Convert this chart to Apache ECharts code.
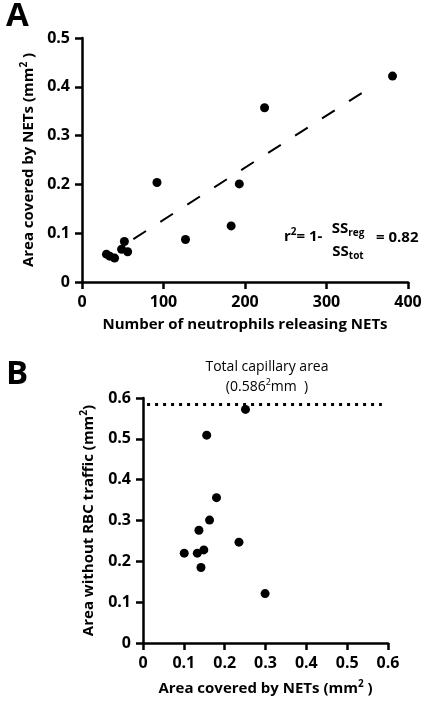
<!DOCTYPE html>
<html><head><meta charset="utf-8">
<script src="https://cdn.jsdelivr.net/npm/echarts@6/dist/echarts.min.js"></script>
<style>html,body{margin:0;padding:0;background:#fff}#c{width:433px;height:703px}</style>
</head><body><div id="c"></div>
<script>
// Panel A: neutrophils releasing NETs vs area covered by NETs
const neutrophilsA = [30, 34, 40, 48.6, 52, 56, 92, 127, 183, 193, 224, 381];
const netAreaA = [0.057, 0.053, 0.049, 0.067, 0.083, 0.062, 0.204, 0.087, 0.115, 0.201, 0.357, 0.422];
// regression line endpoints (as drawn)
const fitX = [63, 358];
const fitY = [0.088, 0.403];
// Panel B: area covered by NETs vs area without RBC traffic
const netAreaB = [0.101, 0.133, 0.149, 0.142, 0.299, 0.235, 0.137, 0.163, 0.18, 0.156, 0.251];
const noFlowB = [0.22, 0.22, 0.228, 0.185, 0.121, 0.247, 0.276, 0.301, 0.356, 0.509, 0.572];
// total capillary area reference line
const capLineX = [0.01, 0.585];
const capLineY = [0.584, 0.584];

const FONT = 'Open Sans';
const TICK = {color: '#000', fontWeight: 'bold', fontSize: 16, fontFamily: FONT, margin: 12};
const fmt1 = v => v === 0 ? '0' : v.toFixed(1);
const ax = (extra) => Object.assign({
  type: 'value',
  axisLine: {show: true, onZero: false, lineStyle: {color: '#000', width: 2.5}},
  axisTick: {show: true, length: 7, lineStyle: {color: '#000', width: 2.5}},
  splitLine: {show: false},
  axisLabel: TICK,
  nameLocation: 'middle',
  nameTextStyle: {color: '#000', fontWeight: 'bold', fontSize: 15, fontFamily: FONT,
    rich: {
      t: {color: '#000', fontWeight: 'bold', fontSize: 15, fontFamily: FONT, lineHeight: 19},
      s: {color: '#000', fontWeight: 'bold', fontSize: 10, fontFamily: FONT, verticalAlign: 'top', lineHeight: 10}
    }}
}, extra);

const pair = (xs, ys) => xs.map((x, i) => [x, ys[i]]);
const chart = echarts.init(document.getElementById('c'), null, {renderer: 'canvas'});
chart.setOption({
  animation: false,
  backgroundColor: '#fff',
  grid: [
    {left: 82, top: 38, width: 326, height: 244},
    {left: 143, top: 398, width: 245, height: 245}
  ],
  xAxis: [
    ax({gridIndex: 0, min: 0, max: 400, interval: 100,
        name: '{t|Number of neutrophils releasing NETs}', nameGap: 33}),
    ax({gridIndex: 1, min: 0, max: 0.6, interval: 0.1,
        axisLabel: Object.assign({formatter: fmt1}, TICK),
        name: '{t|Area covered by NETs (mm}{s|2}{t| )}', nameGap: 36})
  ],
  yAxis: [
    ax({gridIndex: 0, min: 0, max: 0.5, interval: 0.1,
        axisLabel: Object.assign({formatter: fmt1}, TICK),
        name: '{t|Area covered by NETs (mm}{s|2}{t| )}', nameGap: 44, nameRotate: 90}),
    ax({gridIndex: 1, min: 0, max: 0.6, interval: 0.1,
        axisLabel: Object.assign({formatter: fmt1}, TICK),
        name: '{t|Area without RBC traffic (mm}{s|2}{t|)}', nameGap: 45, nameRotate: 90})
  ],
  series: [
    {type: 'line', xAxisIndex: 0, yAxisIndex: 0, data: pair(fitX, fitY), symbol: 'none',
     lineStyle: {color: '#000', width: 2, type: [15, 17]}},
    {type: 'scatter', xAxisIndex: 0, yAxisIndex: 0, data: pair(neutrophilsA, netAreaA),
     symbolSize: 9, itemStyle: {color: '#000', opacity: 1}},
    {type: 'line', xAxisIndex: 1, yAxisIndex: 1, data: pair(capLineX, capLineY), symbol: 'none',
     lineStyle: {color: '#000', width: 3, type: [3, 5]}},
    {type: 'scatter', xAxisIndex: 1, yAxisIndex: 1, data: pair(netAreaB, noFlowB),
     symbolSize: 9, itemStyle: {color: '#000', opacity: 1}}
  ],
  graphic: [
    {type: 'text', left: 6, top: 0, style: {text: 'A', font: 'bold 33px "Open Sans"', fill: '#000'}},
    {type: 'text', left: 6, top: 358, style: {text: 'B', font: 'bold 33px "Open Sans"', fill: '#000'}},
    {type: 'text', x: 284, y: 237, style: {
      text: '{t|r}{s|2}{t|= 1-}', verticalAlign: 'middle',
      rich: {
        t: {fontFamily: FONT, fontWeight: 'bold', fontSize: 15, fill: '#000', lineHeight: 19},
        s: {fontFamily: FONT, fontWeight: 'bold', fontSize: 10, fill: '#000', verticalAlign: 'top', lineHeight: 10}
      }}},
    {type: 'text', x: 348, y: 229, style: {
      text: '{t|SS}{b|reg}', align: 'center', verticalAlign: 'middle',
      rich: {
        t: {fontFamily: FONT, fontWeight: 'bold', fontSize: 15, fill: '#000', lineHeight: 19},
        b: {fontFamily: FONT, fontWeight: 'bold', fontSize: 10, fill: '#000', verticalAlign: 'bottom', lineHeight: 10}
      }}},
    {type: 'text', x: 348, y: 252, style: {
      text: '{t|SS}{b|tot}', align: 'center', verticalAlign: 'middle',
      rich: {
        t: {fontFamily: FONT, fontWeight: 'bold', fontSize: 15, fill: '#000', lineHeight: 19},
        b: {fontFamily: FONT, fontWeight: 'bold', fontSize: 10, fill: '#000', verticalAlign: 'bottom', lineHeight: 10}
      }}},
    {type: 'text', x: 376, y: 238, style: {text: '= 0.82', verticalAlign: 'middle',
      font: 'bold 15px "Open Sans"', fill: '#000'}},
    {type: 'text', x: 267, y: 367, style: {text: 'Total capillary area', align: 'center', verticalAlign: 'middle',
      font: '14px "Open Sans"', fill: '#000'}},
    {type: 'text', x: 267, y: 387, style: {
      text: '{t|(0.586}{s|2}{t|mm  )}', align: 'center', verticalAlign: 'middle',
      rich: {
        t: {fontFamily: FONT, fontSize: 14, fill: '#000', lineHeight: 18},
        s: {fontFamily: FONT, fontSize: 9, fill: '#000', verticalAlign: 'top', lineHeight: 9}
      }}}
  ]
});
</script></body></html>
